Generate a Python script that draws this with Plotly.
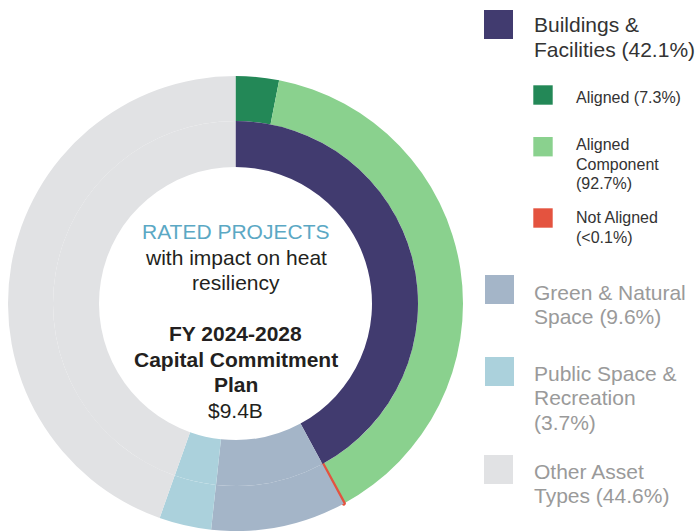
import plotly.graph_objects as go

# ---------------- data ----------------
asset_types = ["Buildings & Facilities", "Green & Natural Space",
               "Public Space & Recreation", "Other Asset Types"]
asset_shares = [42.1, 9.6, 3.7, 44.6]          # % of the plan

bf_categories = ["Aligned", "Aligned Component", "Not Aligned"]
bf_shares = [7.3, 92.7, 0.05]                   # % of Buildings & Facilities (<0.1%)

center_lines = ["RATED PROJECTS", "with impact on heat", "resiliency",
                "FY 2024-2028", "Capital Commitment", "Plan", "$9.4B"]

legend_main = [["Buildings &", "Facilities (42.1%)"],
               ["Green & Natural", "Space (9.6%)"],
               ["Public Space &", "Recreation", "(3.7%)"],
               ["Other Asset", "Types (44.6%)"]]
legend_sub = [["Aligned (7.3%)"],
              ["Aligned", "Component", "(92.7%)"],
              ["Not Aligned", "(<0.1%)"]]

# ---------------- styles ----------------
W, H = 696, 531
asset_colors = ["#413B6F", "#A4B5C8", "#ABD1DC", "#E1E2E4"]
bf_colors = ["#238857", "#8AD18E", "#E4533F"]
FONT = "Liberation Sans, Arial, sans-serif"
DARK = "#231F20"
GREY_TXT = "#9A9A9A"


def px(x):
    return x / W


def py(y):
    return 1 - y / H


cx, cy = 235.5, 303.5
r_out, r_mid, r_in = 227.5, 182.5, 136.5

outer_labels = bf_categories + asset_types[1:]
outer_values = [asset_shares[0] * s / 100 for s in bf_shares] + asset_shares[1:]
outer_colors = bf_colors + asset_colors[1:]
outer_lw = [0, 0, 4, 0, 0, 0]
outer_lc = ["rgba(0,0,0,0)", "rgba(0,0,0,0)", bf_colors[2], "rgba(0,0,0,0)",
            "rgba(0,0,0,0)", "rgba(0,0,0,0)"]

fig = go.Figure()
fig.add_trace(go.Pie(
    labels=outer_labels, values=outer_values, sort=False, direction="clockwise",
    rotation=0, hole=r_mid / r_out, textinfo="none", showlegend=False,
    marker=dict(colors=outer_colors, line=dict(width=outer_lw, color=outer_lc)),
    domain=dict(x=[px(cx - r_out), px(cx + r_out)], y=[0, py(cy - r_out)]),
))
fig.add_trace(go.Pie(
    labels=asset_types, values=asset_shares, sort=False, direction="clockwise",
    rotation=0, hole=r_in / r_mid, textinfo="none", showlegend=False,
    marker=dict(colors=asset_colors, line=dict(width=0)),
    domain=dict(x=[px(cx - r_mid), px(cx + r_mid)],
                y=[py(cy + r_mid), py(cy - r_mid)]),
))

ann = []


def text(x, y_mid, s, size, color, bold=False, anchor="left"):
    ann.append(dict(x=px(x), y=py(y_mid), xref="paper", yref="paper",
                    text=f"<b>{s}</b>" if bold else s, showarrow=False,
                    xanchor=anchor, yanchor="middle",
                    font=dict(family=FONT, size=size, color=color)))


# center text (baselines -> middles)
baselines = [239, 264.5, 290, 341, 366.5, 392, 417.5]
for i, (s, b) in enumerate(zip(center_lines, baselines)):
    color = "#5BA8C4" if i == 0 else DARK
    text(cx, b - 7.3, s, 21, color, bold=(3 <= i <= 5), anchor="center")

shapes = []


def square(x0, y0, size, color):
    shapes.append(dict(type="rect", xref="paper", yref="paper",
                       x0=px(x0), x1=px(x0 + size), y0=py(y0 + size), y1=py(y0),
                       fillcolor=color, line=dict(width=0)))


# main legend
main_sq = [(484, 10), (485, 275), (485, 357), (484, 455)]
main_mid = [[24.4, 49.4], [292, 316.3], [373.4, 397.8, 422.2], [471, 495.4]]
for k in range(4):
    square(main_sq[k][0], main_sq[k][1], 29, asset_colors[k])
    col = "#333333" if k == 0 else GREY_TXT
    for s, m in zip(legend_main[k], main_mid[k]):
        text(532, m, s, 21, col)

# sub legend
sub_sq = [85.3, 137, 208.3]
sub_mid = [[97.2], [145, 164.3, 183.5], [217.8, 237]]
for k in range(3):
    square(533.3, sub_sq[k], 19.4, bf_colors[k])
    for s, m in zip(legend_sub[k], sub_mid[k]):
        text(574, m, s, 16, "#333333")

fig.update_layout(
    width=W, height=H, margin=dict(l=0, r=0, t=0, b=0),
    paper_bgcolor="white", plot_bgcolor="white",
    annotations=ann, shapes=shapes, showlegend=False,
)

fig.write_html(
    "out.html",
    config={"displayModeBar": False},
    post_script="document.body.style.margin='0';document.body.style.overflow='hidden';",
)
